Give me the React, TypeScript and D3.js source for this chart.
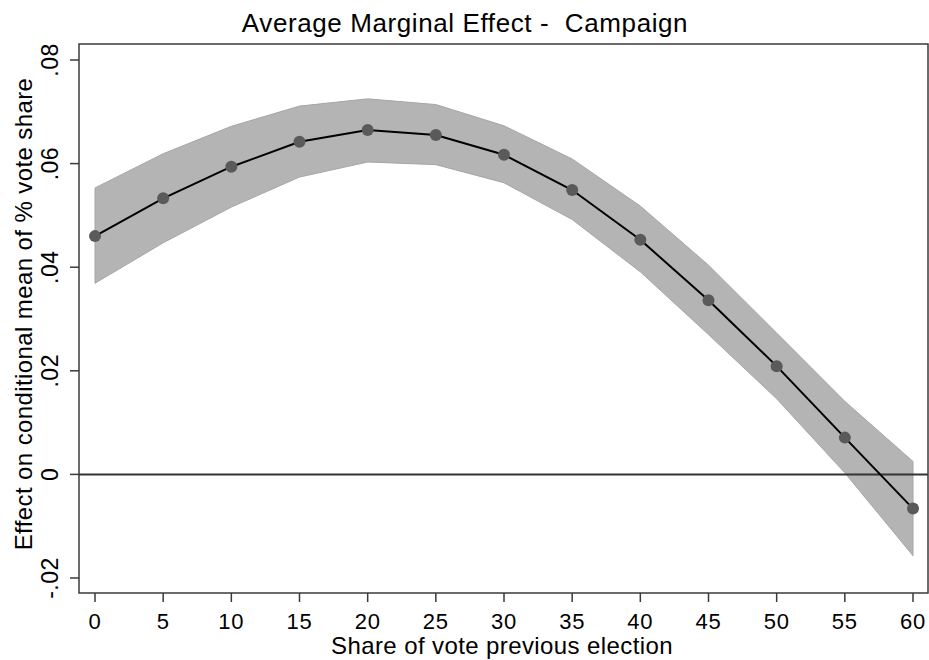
import * as d3 from "d3";
import React from "react";

const width = 929;
const height = 660;
const margin = { top: 44, right: 1, bottom: 67, left: 79 };

const shares = [0, 5, 10, 15, 20, 25, 30, 35, 40, 45, 50, 55, 60];
const effects = [0.046, 0.0533, 0.0594, 0.0642, 0.0665, 0.0655, 0.0617, 0.0549, 0.0453, 0.0336, 0.0209, 0.0071, -0.0066];
const upperCI = [0.0553, 0.0619, 0.0672, 0.0711, 0.0725, 0.0714, 0.0673, 0.0609, 0.0518, 0.0404, 0.0273, 0.0141, 0.0025];
const lowerCI = [0.0369, 0.0447, 0.0516, 0.0574, 0.0603, 0.0598, 0.0563, 0.0492, 0.0391, 0.027, 0.0146, 0.0003, -0.0157];
const yTicks = [-0.02, 0, 0.02, 0.04, 0.06, 0.08];
const xTicks = [0, 5, 10, 15, 20, 25, 30, 35, 40, 45, 50, 55, 60];

// stata style labels: .08, 0, -.02 (plain hyphen)
const fmtY = (v: number) =>
  v === 0 ? "0" : d3.format(".2f")(v).replace("\u2212", "-").replace("0.", ".");

const App = () => {
  const x = d3.scaleLinear().domain([0, 60]).range([95, 913]);
  const y = d3.scaleLinear().domain([-0.02, 0.08]).range([578, 60]);
  const rows = shares.map((s, i) => ({ s, e: effects[i], lo: lowerCI[i], hi: upperCI[i] }));

  const band = d3
    .area<any>()
    .x((d) => x(d.s))
    .y0((d) => y(d.lo))
    .y1((d) => y(d.hi));
  const line = d3
    .line<any>()
    .x((d) => x(d.s))
    .y((d) => y(d.e));

  const font = "'Liberation Sans', Arial, sans-serif";
  const x0 = margin.left;
  const x1 = width - margin.right;
  const y0 = margin.top;
  const y1 = height - margin.bottom;

  return (
    <svg
      width={width}
      height={height}
      style={{ position: "absolute", left: 0, top: 0, background: "#fff" }}
      fontFamily={font}
    >
      <rect x={0} y={0} width={width} height={height} fill="#fff" />
      <text x={465} y={32} textAnchor="middle" fontSize={26} letterSpacing={0.6} fill="#000">
        {"Average Marginal Effect -\u00a0\u00a0Campaign"}
      </text>

      {/* confidence band, line and points */}
      <path d={band(rows) || ""} fill="#b4b4b4" stroke="#a6a6a6" strokeWidth={1} />
      <line x1={x0} x2={x1} y1={y(0)} y2={y(0)} stroke="#333" strokeWidth={2} />
      <path d={line(rows) || ""} fill="none" stroke="#000" strokeWidth={2} />
      {rows.map((d) => (
        <circle key={d.s} cx={x(d.s)} cy={y(d.e)} r={6} fill="#5a5a5a" />
      ))}

      {/* frame */}
      <rect x={x0} y={y0} width={x1 - x0} height={y1 - y0} fill="none" stroke="#3a3a3a" strokeWidth={1.5} />

      {/* y axis */}
      {yTicks.map((t) => (
        <g key={t}>
          <line x1={x0 - 9} x2={x0} y1={y(t)} y2={y(t)} stroke="#3a3a3a" strokeWidth={1.5} />
          <text
            transform={`translate(58, ${y(t)}) rotate(-90)`}
            textAnchor="middle"
            fontSize={23}
            letterSpacing={0.5}
            fill="#000"
          >
            {fmtY(t)}
          </text>
        </g>
      ))}
      <text
        transform={`translate(32, 314) rotate(-90)`}
        textAnchor="middle"
        fontSize={24}
        letterSpacing={0.4}
        fill="#000"
      >
        Effect on conditional mean of % vote share
      </text>

      {/* x axis */}
      {xTicks.map((t) => (
        <g key={t}>
          <line x1={x(t)} x2={x(t)} y1={y1} y2={y1 + 9} stroke="#3a3a3a" strokeWidth={1.5} />
          <text x={x(t)} y={629} textAnchor="middle" fontSize={22} letterSpacing={0.8} fill="#000">
            {t}
          </text>
        </g>
      ))}
      <text x={502} y={654} textAnchor="middle" fontSize={24} letterSpacing={0.4} fill="#000">
        Share of vote previous election
      </text>
    </svg>
  );
};

export default App;
